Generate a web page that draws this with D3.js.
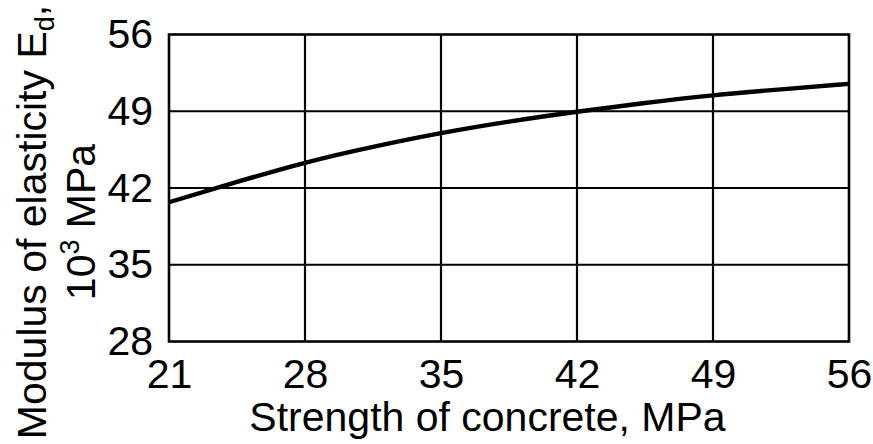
<!DOCTYPE html>
<html>
<head>
<meta charset="utf-8">
<script src="https://cdn.jsdelivr.net/npm/d3@7"></script>
<style>
  html, body { margin: 0; padding: 0; background: #fff; }
  svg { display: block; }
  text { font-family: "Liberation Sans", Arial, sans-serif; fill: #000; }
</style>
</head>
<body>
<svg id="chart" width="873" height="444"></svg>
<script>
// Concrete strength (MPa) vs dynamic modulus of elasticity (10^3 MPa)
const strength = [21, 24.5, 28, 31.5, 35, 38.5, 42, 45.5, 49, 52.5, 56];
const modulus  = [40.7, 42.55, 44.3, 45.75, 47.0, 48.05, 48.95, 49.75, 50.45, 51.0, 51.5];
const xTicks = [21, 28, 35, 42, 49, 56];
const yTicks = [28, 35, 42, 49, 56];

const W = 873, H = 444;
const margin = { top: 34.5, right: 24, bottom: 102.5, left: 169 };
const FONT = 41;

const svg = d3.select("#chart");
const x = d3.scaleLinear().domain([21, 56]).range([margin.left, W - margin.right]);
const y = d3.scaleLinear().domain([28, 56]).range([H - margin.bottom, margin.top]);

// grid
const grid = svg.append("g").attr("stroke", "#000").attr("stroke-width", 2.2);
grid.selectAll("line.v").data(xTicks.slice(1, -1)).join("line")
  .attr("x1", d => x(d)).attr("x2", d => x(d))
  .attr("y1", y(28)).attr("y2", y(56));
grid.selectAll("line.h").data(yTicks.slice(1, -1)).join("line")
  .attr("x1", x(21)).attr("x2", x(56))
  .attr("y1", d => y(d)).attr("y2", d => y(d));

// frame
svg.append("rect")
  .attr("x", x(21)).attr("y", y(56))
  .attr("width", x(56) - x(21)).attr("height", y(28) - y(56))
  .attr("fill", "none").attr("stroke", "#000").attr("stroke-width", 2.6);

// curve
const line = d3.line().x((d, i) => x(strength[i])).y(d => y(d)).curve(d3.curveNatural);
svg.append("path").datum(modulus)
  .attr("d", line)
  .attr("fill", "none").attr("stroke", "#000").attr("stroke-width", 4.4);

// axes
const xAxis = d3.axisBottom(x).tickValues(xTicks).tickSize(0).tickPadding(17);
const gx = svg.append("g").attr("transform", `translate(0,${y(28)})`).call(xAxis);
gx.select(".domain").remove();
gx.selectAll("text").attr("font-size", FONT).attr("font-family", "Liberation Sans, Arial, sans-serif");

const yAxis = d3.axisLeft(y).tickValues(yTicks).tickSize(0).tickPadding(16);
const gy = svg.append("g").attr("transform", `translate(${x(21)},0)`).call(yAxis);
gy.select(".domain").remove();
gy.selectAll("text").attr("font-size", FONT).attr("font-family", "Liberation Sans, Arial, sans-serif");

// axis titles
svg.append("text")
  .attr("x", 487.5).attr("y", 431)
  .attr("text-anchor", "middle").attr("font-size", FONT)
  .text("Strength of concrete, MPa");

const yl = svg.append("text")
  .attr("transform", "translate(0,222) rotate(-90)")
  .attr("text-anchor", "middle").attr("font-size", FONT);
const l1 = yl.append("tspan").attr("x", 0).attr("y", 46);
l1.append("tspan").text("Modulus of elasticity E");
l1.append("tspan").attr("font-size", 27).attr("dy", 8).text("d");
l1.append("tspan").attr("dy", -8).text(",");
const l2 = yl.append("tspan").attr("x", 0).attr("y", 95);
l2.append("tspan").text("10");
l2.append("tspan").attr("font-size", 27).attr("dy", -16).text("3");
l2.append("tspan").attr("dy", 16).text(" MPa");
</script>
</body>
</html>
